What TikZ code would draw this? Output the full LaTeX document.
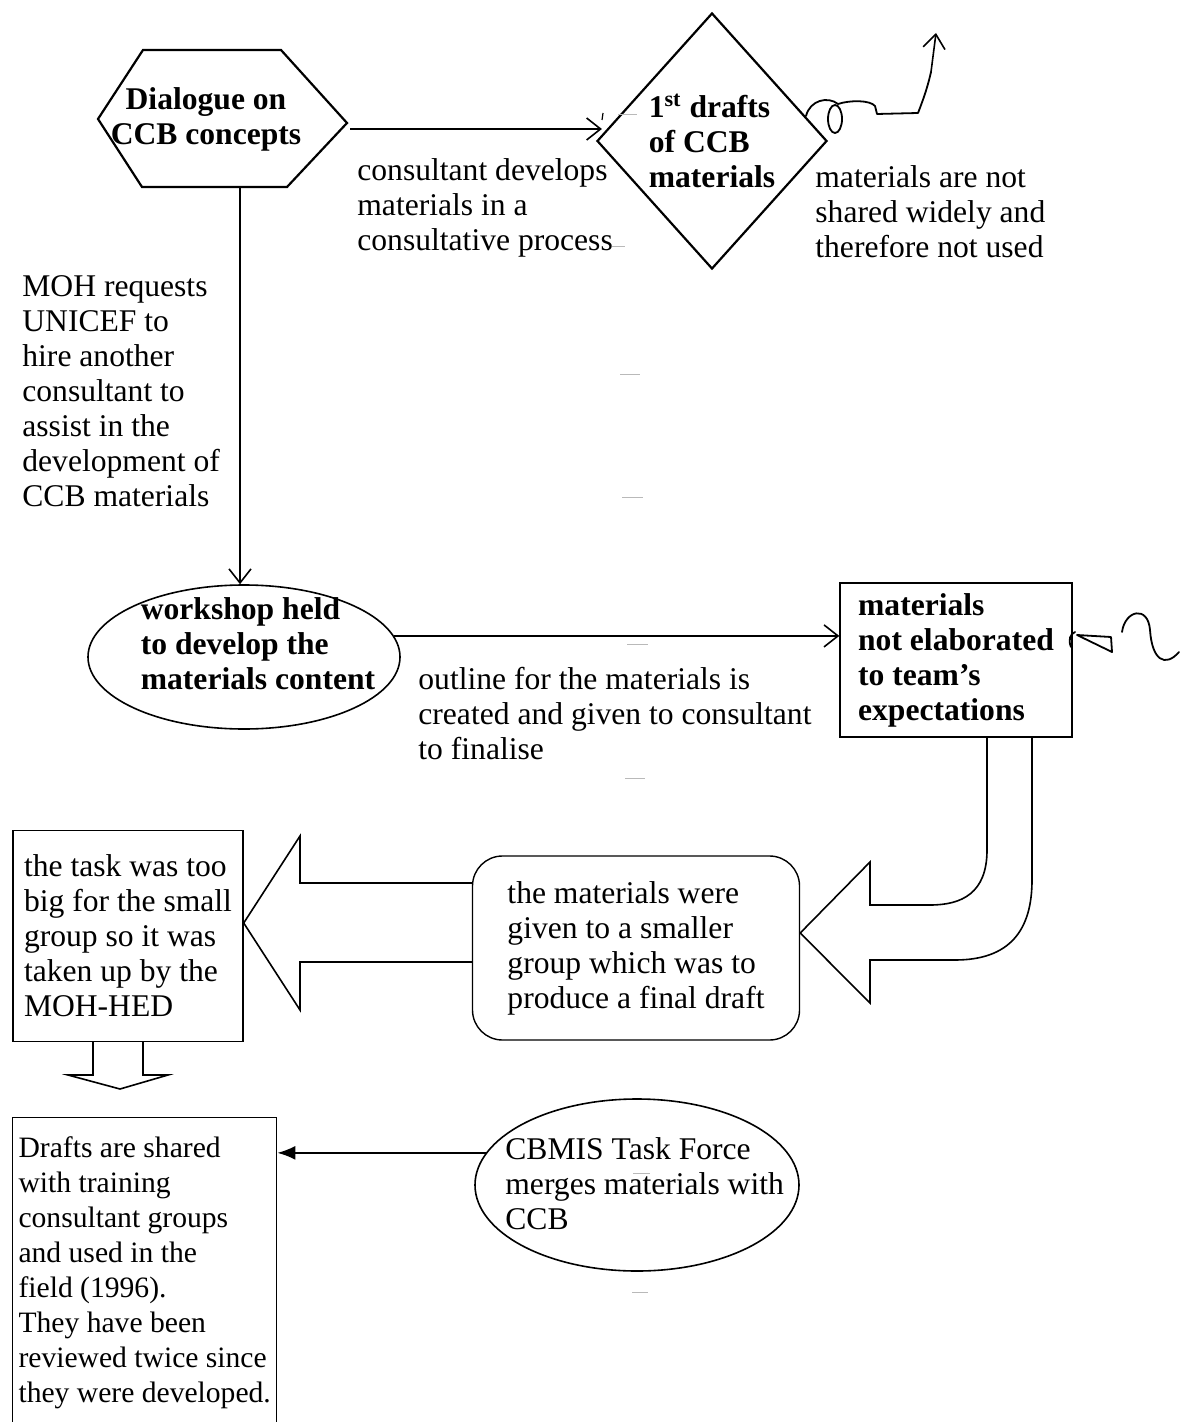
\documentclass[tikz,border=0pt]{standalone}
\usepackage{fontspec}
\setmainfont{Liberation Serif}
\usetikzlibrary{shapes.geometric,arrows.meta,calc}
\begin{document}
\begin{tikzpicture}[x=0.5pt,y=-0.5pt,
  every node/.style={font=\fontsize{15.8}{17.5}\selectfont, inner sep=0pt},
  txt/.style={align=left, anchor=west},
  bld/.style={font=\fontsize{15.8}{17.5}\selectfont\bfseries},
  thickshape/.style={draw, line width=1.1pt},
  shapeline/.style={draw, line width=0.8pt},
  boxline/.style={draw, line width=0.7pt},
  arr/.style={line width=0.8pt, -{Straight Barb[length=7pt,width=11pt,line width=0.8pt]}},
  arrF/.style={line width=0.8pt, -{Latex[length=9pt,width=7pt]}},
  blockarrow/.style={line width=0.8pt, line join=miter},
  squig/.style={line width=0.9pt, line cap=round, line join=round},
  scan/.style={gray!55, line width=0.5pt}
]
\useasboundingbox (0,0) rectangle (1179,1422);

% hexagon
\coordinate (hL) at (98,119);
\coordinate (hTL) at (143,50);
\coordinate (hTR) at (281,50);
\coordinate (hR) at (347,123);
\coordinate (hBR) at (287,187);
\coordinate (hBL) at (142,187);
\draw[thickshape, line join=miter] (hL)--(hTL)--(hTR)--(hR)--(hBR)--(hBL)--cycle;
\node[bld, align=center] (hex) at (206,119) {Dialogue on\\CCB concepts};

% diamond
\node[diamond, thickshape, minimum width=115pt, minimum height=128pt, aspect=0.9, bld, align=left] (dia) at (712,141) {1\textsuperscript{st} drafts\\of CCB\\materials};

\coordinate (a1) at (350,129);
\draw[arr] (a1) -- ($(a1 -| dia.west)+(6,0)$);

\node[txt] (cons) at (357,208) {consultant develops\\materials in a\\consultative process};
\node[txt] (notsh) at (815,212) {materials are not\\shared widely and\\therefore not used};

% squiggle from diamond
\draw[squig] (806,116) .. controls (810,100) and (828,96) .. (838,104)
  .. controls (850,100) and (870,100) .. (875,106) -- (877,114) -- (918,113)
  .. controls (925,95) and (928,85) .. (931,72);
\draw[squig, arr] (931,72) -- (936,33);
\draw[squig] (835,119) ellipse [x radius=7, y radius=14];

% left text
\node[txt] (moh) at (22,391) {MOH requests\\UNICEF to\\hire another\\consultant to\\assist in the\\development of\\CCB materials};

% workshop ellipse
\node[ellipse, shapeline, minimum width=156pt, minimum height=72pt] (wsE) at (244,657) {};
\node[bld, align=left] (ws) at (258,644) {workshop held\\to develop the\\materials content};

\coordinate (hB) at (240,187);
\draw[arr] (hB) -- (hB |- wsE.north);

% rectangle
\node[boxline, bld, align=left, minimum width=116pt, minimum height=77pt] (rect) at (956,660) {materials\\not elaborated\\to team's\\expectations};

\draw[arr] (wsE.8) -- (wsE.8 -| rect.west);

\node[txt] (outl) at (418,714) {outline for the materials is\\created and given to consultant\\to finalise};

% squiggle right of rect
\draw[squig] (1071,647) .. controls (1068,640) and (1070,634) .. (1075,632);
\draw[squig] (1077,635) -- (1111,637) -- (1112,652) -- cycle;
\draw[squig] (1122,632) .. controls (1125,610) and (1148,605) .. (1150,630)
  .. controls (1152,660) and (1165,668) .. (1179,652);

% rounded box
\node[boxline, rounded corners=15pt, align=left, minimum width=163.5pt, minimum height=92pt] (grp) at (636,948) {the materials were\\given to a smaller\\group which was to\\produce a final draft};

% bent block arrow from rect to rounded box
\draw[blockarrow] (987,737) -- (987,850) .. controls (987,893) and (962,905) .. (930,905)
  -- (870,905) -- (870,862) -- (grp.east |- 0,933) -- (870,1003) -- (870,960) -- (955,960)
  .. controls (1010,960) and (1032,930) .. (1032,880) -- (1032,737);

% task box
\node[boxline, align=left, minimum width=115pt, minimum height=105.5pt] (task) at (128,936) {the task was too\\big for the small\\group so it was\\taken up by the\\MOH-HED};

% left block arrow
\draw[blockarrow] (grp.west |- 0,883) -- (300,883) -- (300,836) -- (task.east |- 0,923) -- (300,1010) -- (300,962) -- (grp.west |- 0,962);

% down block arrow
\draw[blockarrow] (93,1042) -- (93,1075) -- (68,1075) -- (120,1089) -- (168,1075) -- (143,1075) -- (143,1042);

% drafts box
\node[boxline, align=left, anchor=north west, minimum width=132pt, minimum height=155pt, font=\fontsize{14.8}{17.5}\selectfont] (drafts) at (12,1117) {Drafts are shared\\with training\\consultant groups\\and used in the\\field (1996).\\They have been\\reviewed twice since\\they were developed.};

% CBMIS ellipse
\node[ellipse, shapeline, minimum width=162pt, minimum height=86pt] (cbE) at (637,1185) {};
\node[txt] (cb) at (505,1184) {CBMIS Task Force\\merges materials with\\CCB};
\draw[arrF] (cbE.168) -- (cbE.168 -| drafts.east);

% faint scan marks
\draw[scan] (612,247) -- (625,247);
\draw[scan] (620,375) -- (640,375);
\draw[scan] (622,497) -- (643,497);
\draw[scan] (627,644) -- (648,644);
\draw[scan] (625,778) -- (645,778);
\draw[scan] (633,1173) -- (650,1173);
\draw[scan] (632,1292) -- (648,1292);
\draw[scan] (618,115) -- (637,115);
\draw[line width=0.6pt] (603,113) -- (602,120);
\end{tikzpicture}
\end{document}
